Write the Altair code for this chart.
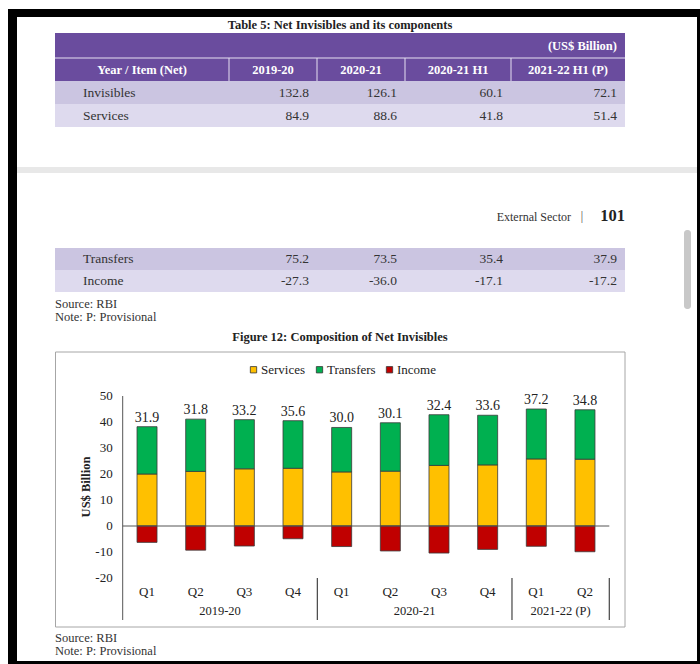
import altair as alt
import pandas as pd

# ---------------- data ----------------
TABLE_COLUMNS = ["2019-20", "2020-21", "2020-21 H1", "2021-22 H1 (P)"]
TABLE_TOP_ITEMS = ["Invisibles", "Services"]
TABLE_BOTTOM_ITEMS = ["Transfers", "Income"]
INVISIBLES = [132.8, 126.1, 60.1, 72.1]
SERVICES_ANNUAL = [84.9, 88.6, 41.8, 51.4]
TRANSFERS_ANNUAL = [75.2, 73.5, 35.4, 37.9]
INCOME_ANNUAL = [-27.3, -36.0, -17.1, -17.2]

FISCAL_YEARS = ["2019-20"] * 4 + ["2020-21"] * 4 + ["2021-22 (P)"] * 2
QUARTERS = ["Q1", "Q2", "Q3", "Q4", "Q1", "Q2", "Q3", "Q4", "Q1", "Q2"]
SERVICES_Q = [20.0, 21.0, 22.0, 22.2, 20.8, 21.1, 23.3, 23.5, 25.8, 25.7]
TRANSFERS_Q = [18.2, 20.1, 18.9, 18.3, 17.1, 18.6, 19.5, 19.1, 19.2, 19.0]
INCOME_Q = [-6.3, -9.3, -7.7, -4.9, -7.9, -9.6, -10.4, -9.0, -7.8, -9.9]
COMPONENTS = ["Services", "Transfers", "Income"]
Y_TICKS = [-20, -10, 0, 10, 20, 30, 40, 50]

# ---------------- look & layout ----------------
W, H = 700, 664
FONT = "Liberation Serif"
INK = "#222222"
BODY_INK = "#333333"
PURPLE = "#6A4C9E"
ROW_SHADES = ["#CBC5E1", "#DEDAEE"]
COMPONENT_COLORS = ["#FFC000", "#00B050", "#C00000"]
TABLE_LEFT, TABLE_RIGHT = 55, 625
COL_EDGES = [55, 229, 317, 405, 511, 625]
PLOT_X = [122.7, 609.3]     # pixel span of the quarter axis
PLOT_Y = [578, 396]         # pixel span of -20 .. 50
GROUP_RULE_Y = [578, 620]   # vertical extent of the year dividers

ONE = pd.DataFrame({"k": [0]})


def box(x, x2, y, y2, fill, **kw):
    return alt.Chart(ONE).mark_rect(fill=fill, **kw).encode(
        x=alt.value(x), x2=alt.value(x2), y=alt.value(y), y2=alt.value(y2)
    )


def hline(x, x2, y, color, width=1.0):
    return alt.Chart(ONE).mark_rule(color=color, strokeWidth=width).encode(
        x=alt.value(x), x2=alt.value(x2), y=alt.value(y)
    )


def vline(x, y, y2, color, width=1.0):
    return alt.Chart(ONE).mark_rule(color=color, strokeWidth=width).encode(
        x=alt.value(x), y=alt.value(y), y2=alt.value(y2)
    )


def label(text, x, y, size=13, weight="normal", align="left", color=INK, angle=0):
    return alt.Chart(ONE).mark_text(
        text=text, font=FONT, fontSize=size, fontWeight=weight,
        align=align, baseline="middle", color=color, angle=angle,
    ).encode(x=alt.value(x), y=alt.value(y))


def table_block(items, rows, top, row_h):
    layers = []
    for r, (item, vals) in enumerate(zip(items, rows)):
        y0 = top + r * row_h
        layers.append(box(TABLE_LEFT, TABLE_RIGHT, y0, y0 + row_h, ROW_SHADES[r % 2]))
        layers.append(label(item, 83, y0 + row_h / 2, size=13.5, color=BODY_INK))
        for j, v in enumerate(vals):
            layers.append(label(f"{v:.1f}", COL_EDGES[j + 2] - 8, y0 + row_h / 2,
                                size=13.5, color=BODY_INK, align="right"))
    return layers


# ---------------- page furniture ----------------
page = [
    box(8, W, 9, 17, "#000000"),
    box(8, 17, 9, H, "#000000"),
    box(697, W, 9, H, "#000000"),
    box(17, W, 661, H, "#000000"),
    box(17, 697, 167, 173, "#E8E8E8"),
    box(684, 691, 230, 309, "#C8C8C8", cornerRadius=3),
    label("External Sector", 571, 217, size=12, color="#333333", align="right"),
    label("|", 582, 216, size=12, color="#444444", align="center"),
    label("101", 625, 216, size=16.5, weight="bold", align="right"),
]

# ---------------- table ----------------
header = [
    label("Table 5: Net Invisibles and its components", 340, 25, size=12.5, weight="bold", align="center"),
    box(TABLE_LEFT, TABLE_RIGHT, 33, 81, PURPLE),
    hline(TABLE_LEFT, TABLE_RIGHT, 58, "#E6E0F2", 1),
    label("(US$ Billion)", 617, 46, size=12.5, weight="bold", align="right", color="#FFFFFF"),
    label("Year / Item (Net)", (COL_EDGES[0] + COL_EDGES[1]) / 2, 70, size=12.5, weight="bold",
          align="center", color="#FFFFFF"),
]
for j, name in enumerate(TABLE_COLUMNS):
    header.append(vline(COL_EDGES[j + 1], 58, 81, "#E6E0F2", 1))
    header.append(label(name, (COL_EDGES[j + 1] + COL_EDGES[j + 2]) / 2, 70, size=12.5,
                        weight="bold", align="center", color="#FFFFFF"))

top_rows = table_block(TABLE_TOP_ITEMS, [INVISIBLES, SERVICES_ANNUAL], 81, 23)
bottom_rows = table_block(TABLE_BOTTOM_ITEMS, [TRANSFERS_ANNUAL, INCOME_ANNUAL], 248, 22)

notes = [
    label("Source: RBI", 55, 304, size=12.5, color="#333333"),
    label("Note: P: Provisional", 55, 317, size=12.5, color="#333333"),
    label("Figure 12: Composition of Net Invisibles", 340, 337, size=12.5, weight="bold", align="center"),
    box(55.5, 625, 352, 627, "#FFFFFF", stroke="#A6A6A6", strokeWidth=1),
    label("Source: RBI", 55, 638, size=12.5, color="#333333"),
    label("Note: P: Provisional", 55, 651, size=12.5, color="#333333"),
    label("US$ Billion", 86, (PLOT_Y[0] + PLOT_Y[1]) / 2, size=12.5, weight="bold", align="center",
          angle=270),
]

# ---------------- figure ----------------
long_rows = []
for i in range(len(QUARTERS)):
    for k, (comp, vals) in enumerate(zip(COMPONENTS, [SERVICES_Q, TRANSFERS_Q, INCOME_Q])):
        long_rows.append({"pos": i, "year": FISCAL_YEARS[i], "quarter": QUARTERS[i],
                          "component": comp, "value": vals[i], "stack_order": k})
bars_df = pd.DataFrame(long_rows)

quarter_df = pd.DataFrame({
    "pos": list(range(len(QUARTERS))), "year": FISCAL_YEARS, "quarter": QUARTERS,
    "services": SERVICES_Q, "transfers": TRANSFERS_Q, "income": INCOME_Q,
})
quarter_df["top"] = quarter_df["services"] + quarter_df["transfers"]
quarter_df["net"] = (quarter_df["services"] + quarter_df["transfers"] + quarter_df["income"]).round(1)

tick_df = pd.DataFrame({"tick": Y_TICKS, "tick_label": [str(t) for t in Y_TICKS]})

XS = alt.Scale(domain=[-0.5, len(QUARTERS) - 0.5], range=PLOT_X, nice=False, zero=False, padding=0)
YS = alt.Scale(domain=[-20, 50], range=PLOT_Y, nice=False, zero=False, padding=0)

# plot frame: left axis line and the zero baseline, both taken from the quarter extent
extent = alt.Chart(quarter_df).transform_aggregate(
    lo="min(pos)", hi="max(pos)"
).transform_calculate(
    left="datum.lo - 0.5", right="datum.hi + 0.5", zero="0"
)
axis_line = extent.mark_rule(color="#555555", strokeWidth=1).encode(
    x=alt.X("left:Q", scale=XS, axis=None),
    y=alt.value(PLOT_Y[1]),
    y2=alt.value(GROUP_RULE_Y[1]),
)
zero_line = extent.mark_rule(color="#555555", strokeWidth=1).encode(
    x=alt.X("left:Q", scale=XS, axis=None), x2="right:Q",
    y=alt.Y("zero:Q", scale=YS, axis=None),
)

tick_labels = alt.Chart(tick_df).mark_text(
    font=FONT, fontSize=13, color=INK, align="right", baseline="middle"
).encode(
    x=alt.value(PLOT_X[0] - 10),
    y=alt.Y("tick:Q", scale=YS, axis=None),
    text="tick_label:N",
)

bars = alt.Chart(bars_df).mark_bar(size=20, stroke="#3A3A3A", strokeWidth=0.8, orient="vertical").encode(
    x=alt.X("pos:Q", scale=XS, axis=None),
    y=alt.Y("value:Q", stack="zero", scale=YS, axis=None),
    color=alt.Color(
        "component:N",
        scale=alt.Scale(domain=COMPONENTS, range=COMPONENT_COLORS),
        legend=alt.Legend(
            orient="none", legendX=247, legendY=363, direction="horizontal", title=None,
            symbolType="square", symbolSize=40, symbolStrokeColor="#333333", symbolStrokeWidth=0.8,
            labelFont=FONT, labelFontSize=13, labelColor=INK, labelOffset=1, columnPadding=7,
            padding=0, zindex=2,
        ),
    ),
    order=alt.Order("stack_order:Q"),
)

net_labels = alt.Chart(quarter_df).mark_text(
    dy=-9, font=FONT, fontSize=14, color=INK, baseline="middle"
).encode(
    x=alt.X("pos:Q", scale=XS, axis=None),
    y=alt.Y("top:Q", scale=YS, axis=None),
    text=alt.Text("net:Q", format=".1f"),
)

quarter_labels = alt.Chart(quarter_df).mark_text(font=FONT, fontSize=13, color=INK, baseline="middle").encode(
    x=alt.X("pos:Q", scale=XS, axis=None), y=alt.value(592), text="quarter:N"
)
year_labels = alt.Chart(quarter_df).transform_aggregate(
    center="mean(pos)", groupby=["year"]
).mark_text(font=FONT, fontSize=12.5, color=INK, baseline="middle").encode(
    x=alt.X("center:Q", scale=XS, axis=None), y=alt.value(611), text="year:N"
)
year_dividers = alt.Chart(quarter_df).transform_aggregate(
    last="max(pos)", groupby=["year"]
).transform_calculate(edge="datum.last + 0.5").mark_rule(color="#444444", strokeWidth=1.2).encode(
    x=alt.X("edge:Q", scale=XS, axis=None), y=alt.value(GROUP_RULE_Y[0]), y2=alt.value(GROUP_RULE_Y[1])
)

chart = alt.layer(
    *page, *header, *top_rows, *bottom_rows, *notes,
    axis_line, tick_labels, bars, zero_line, net_labels, quarter_labels, year_labels, year_dividers,
).properties(
    width=W, height=H, autosize=alt.AutoSizeParams(type="none"), padding=0
).configure(
    background="#FFFFFF"
).configure_view(
    strokeWidth=0
)

chart.save("out.html", embed_options={"renderer": "svg", "actions": False})
